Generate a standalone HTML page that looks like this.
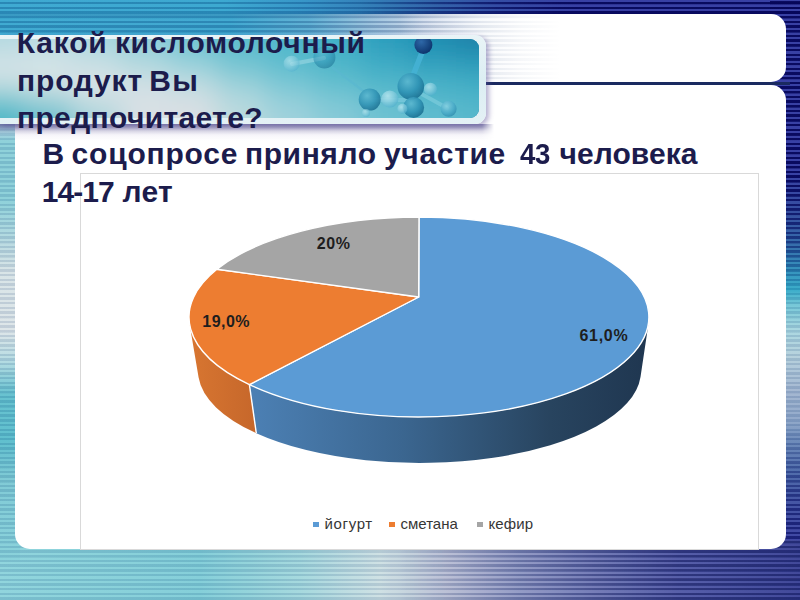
<!DOCTYPE html>
<html><head><meta charset="utf-8">
<style>
*{margin:0;padding:0;box-sizing:border-box}
html,body{width:800px;height:600px;overflow:hidden;background:#fff}
body{position:relative;font-family:"Liberation Sans",sans-serif}
.abs{position:absolute}
#bgtop{left:0;top:0;width:800px;height:14px;background:repeating-linear-gradient(180deg,rgba(0,30,90,0.13) 0px,rgba(0,30,90,0.13) 2.3px,rgba(0,30,90,0) 2.5px,rgba(0,30,90,0) 4.6875px) 0 2px,linear-gradient(90deg,#37a7d0 0%,#35a5cf 28%,#3092c6 38%,#2c78b4 47%,#2b5ca6 55%,#2c46a0 62%,#3038a0 72%,#3038a0 100%)}
#bgtop2{left:0;top:14px;width:770px;height:72px;background:repeating-linear-gradient(180deg,rgba(0,30,90,0.13) 0px,rgba(0,30,90,0.13) 2.3px,rgba(0,30,90,0) 2.5px,rgba(0,30,90,0) 4.6875px) 0 2.06px,linear-gradient(90deg,#38a8d0 0%,#3aa6cf 30%,#5aaed3 40%,#98c2de 48%,#cbd8ea 55%,#e8eef6 62%,#fff 70%)}
#bgright{left:770px;top:0;width:30px;height:600px;background:linear-gradient(180deg,#3038a0 0px,#3038a0 170px,#2e4a9c 215px,#2e68a8 245px,#2e8eba 270px,#34aac8 290px,#72c6d6 305px,#a8d6e0 330px,#b4d0dc 355px,#a2b6d0 390px,#8ea6c8 420px,#6a88b8 440px,#4c6aaa 470px,#3e50a0 500px,#3840a0 540px,#3438a0 600px)}
#bgbottom{left:0;top:540px;width:800px;height:60px;background:linear-gradient(90deg,#8cd3dc 0%,#80cdd7 25%,#a2d7dd 37.5%,#cde0e3 47.5%,#b8bdd4 56%,#9098c4 65%,#6e76b4 75%,#5058a6 85%,#3a4296 100%)}
#bgleft{left:0;top:100px;width:20px;height:460px;background:linear-gradient(180deg,#8acfd9 0px,#8acfd9 100px,#b4d9e0 140px,#d6e3e6 170px,#dde5e8 230px,#b4dbe2 260px,#62c0ce 295px,#5abccc 340px,#7cc9d4 380px,#86d0da 460px)}
#stripes{left:0;top:0;width:800px;height:600px;background:repeating-linear-gradient(180deg,rgba(0,40,100,0.12) 0px,rgba(0,40,100,0.12) 2.3px,rgba(255,255,255,0.04) 2.5px,rgba(255,255,255,0.04) 4.6875px);background-position:0 2px}
.sst{background:repeating-linear-gradient(180deg,rgba(6,6,90,0.9) 0px,rgba(6,6,90,0.9) 2.2px,rgba(6,6,90,0) 2.6px,rgba(6,6,90,0) 4.6875px)}
#sstop{left:0;top:0;width:800px;height:14px;background-position:0 2px;-webkit-mask-image:linear-gradient(90deg,transparent 45%,#000 70%);mask-image:linear-gradient(90deg,transparent 45%,#000 70%)}
#ssright{left:770px;top:0;width:30px;height:540px;background-position:0 2px;-webkit-mask-image:linear-gradient(180deg,#000 0px,#000 180px,transparent 290px,transparent 430px,rgba(0,0,0,0.55) 520px);mask-image:linear-gradient(180deg,#000 0px,#000 180px,transparent 290px,transparent 430px,rgba(0,0,0,0.55) 520px)}
#ssbottom{left:0;top:540px;width:800px;height:60px;background:repeating-linear-gradient(180deg,rgba(20,24,90,0.5) 0px,rgba(20,24,90,0.5) 2.2px,rgba(20,24,90,0) 2.6px,rgba(20,24,90,0) 4.6875px);background-position:0 1.06px;-webkit-mask-image:linear-gradient(90deg,transparent 50%,#000 85%);mask-image:linear-gradient(90deg,transparent 50%,#000 85%)}
#topbox{left:400px;top:14px;width:386px;height:68px;border-radius:0 15px 15px 0;background:linear-gradient(90deg,rgba(255,255,255,0) 0px,rgba(255,255,255,0.3) 40px,rgba(255,255,255,0.62) 80px,rgba(255,255,255,0.85) 120px,#fff 160px)}
#darkline{left:470px;top:82.4px;width:320px;height:2.4px;background:#1a2a60}
#mainbox{left:15px;top:85px;width:771px;height:463.5px;border-radius:15px;background:#fff}
#hshadow{left:0;top:124px;width:494px;height:18px;-webkit-mask-image:linear-gradient(90deg,#000 0px,#000 482px,transparent 494px);mask-image:linear-gradient(90deg,#000 0px,#000 482px,transparent 494px);background:linear-gradient(180deg,rgba(110,105,160,0.8) 0px,rgba(120,115,165,0.7) 3px,rgba(170,165,200,0.45) 7px,rgba(220,215,235,0.25) 11px,rgba(255,255,255,0) 17px)}
#hframe{left:0;top:35px;width:486px;height:89px;border-radius:0 11px 11px 0;box-shadow:3px 2px 5px rgba(90,80,150,0.45);background:linear-gradient(180deg,#e9f4f7 0%,#dceef3 50%,#e4f1f5 100%)}
#hinner{left:0;top:39px;width:479px;height:79px;border-radius:0 9px 9px 0;overflow:hidden;
 background:linear-gradient(90deg,rgba(220,232,236,1) 0%,rgba(210,230,234,1) 25%,rgba(120,200,214,1) 45%,rgba(60,176,200,1) 60%,rgba(40,160,192,1) 80%,rgba(30,130,170,1) 100%)}
.t{position:absolute;color:#1c1c4c;font-weight:bold;white-space:pre;line-height:1;font-size:30px}
#chart{left:80px;top:172.5px;width:678.5px;height:377px;border:1px solid #d9d9d9;background:#fff}
.lg{position:absolute;top:515.5px;font-size:15px;color:#363636;white-space:pre;line-height:1}
.sq{position:absolute;top:521.5px;width:6px;height:5.5px}
.dl{position:absolute;font-size:16px;font-weight:bold;color:#1e1e1e;white-space:pre;line-height:1}
</style></head><body>
<div id="bgtop" class="abs"></div>
<div id="bgtop2" class="abs"></div>
<div id="bgright" class="abs"></div>
<div id="bgbottom" class="abs"></div>
<div id="bgleft" class="abs"></div>
<div id="stripes" class="abs"></div>
<div id="sstop" class="abs sst"></div>
<div id="ssright" class="abs sst"></div>
<div id="ssbottom" class="abs sst"></div>
<div id="topbox" class="abs"></div>
<div id="darkline" class="abs"></div>
<div id="mainbox" class="abs"></div>
<div id="hshadow" class="abs"></div>
<div id="hframe" class="abs"></div>
<div id="hinner" class="abs">
<svg width="479" height="79" style="position:absolute;left:0;top:0">
<defs>
<filter id="hb" x="-20%" y="-50%" width="140%" height="200%"><feGaussianBlur stdDeviation="14"/></filter>
<radialGradient id="bd" cx="0.38" cy="0.32" r="0.75"><stop offset="0" stop-color="#5cb8d0"/><stop offset="0.55" stop-color="#2e92b4"/><stop offset="1" stop-color="#176a8c"/></radialGradient>
<radialGradient id="bl" cx="0.38" cy="0.32" r="0.75"><stop offset="0" stop-color="#c4ecf4"/><stop offset="0.5" stop-color="#8cd0e0"/><stop offset="1" stop-color="#4aaccb"/></radialGradient><radialGradient id="bm" cx="0.38" cy="0.32" r="0.75"><stop offset="0" stop-color="#8ad2e2"/><stop offset="0.6" stop-color="#4aaac8"/><stop offset="1" stop-color="#2a88aa"/></radialGradient>
<radialGradient id="bn" cx="0.38" cy="0.32" r="0.75"><stop offset="0" stop-color="#2e68a8"/><stop offset="1" stop-color="#0a3068"/></radialGradient>
</defs>
<g filter="url(#hb)">
<rect x="-84" y="-48" width="108" height="58" fill="#b0d8e0"/>
<rect x="24" y="-48" width="48" height="58" fill="#b8dbe2"/>
<rect x="72" y="-48" width="48" height="58" fill="#a8d6de"/>
<rect x="120" y="-48" width="48" height="58" fill="#90cfd9"/>
<rect x="168" y="-48" width="48" height="58" fill="#70c4d2"/>
<rect x="216" y="-48" width="48" height="58" fill="#5cbccc"/>
<rect x="264" y="-48" width="48" height="58" fill="#50b8cc"/>
<rect x="312" y="-48" width="48" height="58" fill="#40b0c8"/>
<rect x="360" y="-48" width="48" height="58" fill="#2a9cbc"/>
<rect x="408" y="-48" width="48" height="58" fill="#1e8cb0"/>
<rect x="456" y="-48" width="108" height="58" fill="#1a80a8"/>
<rect x="-84" y="10" width="108" height="18" fill="#cde2e6"/>
<rect x="24" y="10" width="48" height="18" fill="#cfe3e7"/>
<rect x="72" y="10" width="48" height="18" fill="#c0dde3"/>
<rect x="120" y="10" width="48" height="18" fill="#a8d6de"/>
<rect x="168" y="10" width="48" height="18" fill="#88ccd8"/>
<rect x="216" y="10" width="48" height="18" fill="#68c0d0"/>
<rect x="264" y="10" width="48" height="18" fill="#58bacc"/>
<rect x="312" y="10" width="48" height="18" fill="#48b4c8"/>
<rect x="360" y="10" width="48" height="18" fill="#38a8c4"/>
<rect x="408" y="10" width="48" height="18" fill="#2c9cbc"/>
<rect x="456" y="10" width="108" height="18" fill="#2894b6"/>
<rect x="-84" y="28" width="108" height="18" fill="#d9e3e6"/>
<rect x="24" y="28" width="48" height="18" fill="#dae3e6"/>
<rect x="72" y="28" width="48" height="18" fill="#d5e2e5"/>
<rect x="120" y="28" width="48" height="18" fill="#c5dde2"/>
<rect x="168" y="28" width="48" height="18" fill="#b0d8df"/>
<rect x="216" y="28" width="48" height="18" fill="#88ccd6"/>
<rect x="264" y="28" width="48" height="18" fill="#6cc2d2"/>
<rect x="312" y="28" width="48" height="18" fill="#58bacc"/>
<rect x="360" y="28" width="48" height="18" fill="#48b2c8"/>
<rect x="408" y="28" width="48" height="18" fill="#40acc4"/>
<rect x="456" y="28" width="108" height="18" fill="#3aa8c2"/>
<rect x="-84" y="46" width="108" height="18" fill="#90d0d8"/>
<rect x="24" y="46" width="48" height="18" fill="#b8dadf"/>
<rect x="72" y="46" width="48" height="18" fill="#d8e2e5"/>
<rect x="120" y="46" width="48" height="18" fill="#d8e1e5"/>
<rect x="168" y="46" width="48" height="18" fill="#cfdfe3"/>
<rect x="216" y="46" width="48" height="18" fill="#acd6de"/>
<rect x="264" y="46" width="48" height="18" fill="#88ccd8"/>
<rect x="312" y="46" width="48" height="18" fill="#70c4d2"/>
<rect x="360" y="46" width="48" height="18" fill="#5cbcce"/>
<rect x="408" y="46" width="48" height="18" fill="#50b6ca"/>
<rect x="456" y="46" width="108" height="18" fill="#48b2c8"/>
<rect x="-84" y="64" width="108" height="58" fill="#48b6c6"/>
<rect x="24" y="64" width="48" height="58" fill="#6ac0ce"/>
<rect x="72" y="64" width="48" height="58" fill="#a8d4dc"/>
<rect x="120" y="64" width="48" height="58" fill="#d8e0e4"/>
<rect x="168" y="64" width="48" height="58" fill="#dadfe3"/>
<rect x="216" y="64" width="48" height="58" fill="#bcdade"/>
<rect x="264" y="64" width="48" height="58" fill="#a0d2dc"/>
<rect x="312" y="64" width="48" height="58" fill="#88cad8"/>
<rect x="360" y="64" width="48" height="58" fill="#70c2d2"/>
<rect x="408" y="64" width="48" height="58" fill="#60bccf"/>
<rect x="456" y="64" width="108" height="58" fill="#58b8cc"/>

</g>
<g transform="translate(0,-39)">
<g stroke-linecap="round">
<line x1="423" y1="50" x2="412" y2="78" stroke="#45b2d4" stroke-width="5.5" opacity="0.9"/>
<line x1="333" y1="68" x2="366" y2="93" stroke="#5ab8d0" stroke-width="2.5" opacity="0.7"/>
<line x1="418" y1="92" x2="447" y2="108" stroke="#7cccdc" stroke-width="4" opacity="0.7"/>
<line x1="292" y1="64" x2="324" y2="58" stroke="#9cd8e4" stroke-width="4" opacity="0.6"/>
<line x1="372" y1="100" x2="408" y2="100" stroke="#80cce0" stroke-width="4" opacity="0.6"/>
</g>
<circle cx="291.6" cy="63.7" r="8" fill="url(#bl)" opacity="0.6"/>
<circle cx="324.4" cy="57.4" r="11" fill="url(#bd)" opacity="0.55"/>
<circle cx="423.4" cy="45" r="9" fill="url(#bn)"/>
<circle cx="410.8" cy="86.4" r="13.3" fill="url(#bd)" opacity="0.9"/>
<circle cx="430.4" cy="89.2" r="6.5" fill="url(#bl)" opacity="0.7"/>
<circle cx="369.7" cy="99.6" r="11" fill="url(#bd)" opacity="0.85"/>
<circle cx="389.8" cy="99" r="8.6" fill="url(#bl)" opacity="0.75"/>
<circle cx="413.6" cy="107.4" r="10.5" fill="url(#bd)" opacity="0.9"/>
<circle cx="448.6" cy="108.8" r="8" fill="url(#bm)" opacity="0.8"/>
<circle cx="402.4" cy="108.8" r="5" fill="url(#bl)" opacity="0.7"/>
<circle cx="366" cy="113" r="4" fill="url(#bl)" opacity="0.6"/>
</g>
</svg>
</div>
<div id="chart" class="abs"></div>
<svg class="abs" style="left:0;top:0" width="800" height="600">
<defs>
<linearGradient id="gbw" gradientUnits="userSpaceOnUse" x1="250" y1="0" x2="650" y2="0">
<stop offset="0" stop-color="#4c80b4"/><stop offset="0.38" stop-color="#3b6690"/><stop offset="0.75" stop-color="#28445f"/><stop offset="1" stop-color="#1f3650"/></linearGradient>
<linearGradient id="gow" gradientUnits="userSpaceOnUse" x1="189" y1="0" x2="256" y2="0">
<stop offset="0" stop-color="#d87631"/><stop offset="1" stop-color="#c6672b"/></linearGradient>
</defs>
<path d="M249.4,384.6 A230,100 0 0 0 648.5,323.5 L640.5,377.0 A221.4,91.7 0 0 1 256.3,433.2 Z" fill="url(#gbw)"/>
<path d="M189.6,324.3 A230,100 0 0 0 249.4,384.6 L256.3,433.2 A221.4,91.7 0 0 1 198.6,377.6 Z" fill="url(#gow)"/>
<g stroke="#fff" stroke-width="1.4" stroke-linejoin="round">
<path d="M418.7,297 L419,217 A230,100 0 1 1 249.4,384.6 Z" fill="#5b9bd5"/>
<path d="M418.7,297 L249.4,384.6 A230,100 0 0 1 216.9,269.3 Z" fill="#ed7d31"/>
<path d="M418.7,297 L216.9,269.3 A230,100 0 0 1 419,217 Z" fill="#a5a5a5"/>
<line x1="249.4" y1="384.6" x2="256.3" y2="433.2"/>
</g>
</svg>
<div class="dl" style="left:316.75px;top:236px;letter-spacing:0.625px">20%</div>
<div class="dl" style="left:202.3px;top:314px;letter-spacing:0.475px">19,0%</div>
<div class="dl" style="left:579.5px;top:327.5px;letter-spacing:0.7px">61,0%</div>
<div class="sq" style="left:313px;background:#5b9bd5"></div>
<div class="lg" style="left:324.5px;letter-spacing:0.66px">йогурт</div>
<div class="sq" style="left:389px;background:#ed7d31"></div>
<div class="lg" style="left:400.5px">сметана</div>
<div class="sq" style="left:477px;background:#a5a5a5"></div>
<div class="lg" style="left:488.5px;letter-spacing:0.12px">кефир</div>
<div class="t" style="left:16.7px;top:27.5px;letter-spacing:0.825px">Какой</div>
<div class="t" style="left:114.9px;top:27.5px;letter-spacing:0.675px">кисломолочный</div>
<div class="t" style="left:17.1px;top:66px;letter-spacing:0.8px">продукт</div>
<div class="t" style="left:149.25px;top:66px;letter-spacing:1.25px">Вы</div>
<div class="t" style="left:17px;top:102.7px;letter-spacing:0.338px">предпочитаете?</div>
<div class="t" style="left:42.5px;top:139px;letter-spacing:0px">В</div>
<div class="t" style="left:71.5px;top:139px;letter-spacing:0.812px">соцопросе</div>
<div class="t" style="left:245px;top:139px;letter-spacing:0.583px">приняло</div>
<div class="t" style="left:384px;top:139px;letter-spacing:0.667px">участие</div>
<div class="t" style="left:520.3px;top:139px;letter-spacing:-0.5px;transform:scaleX(0.92);transform-origin:0 0">43</div>
<div class="t" style="left:559.5px;top:139px;letter-spacing:0.071px">человека</div>
<div class="t" style="left:41.85px;top:177.2px;letter-spacing:-0.962px">14-17</div>
<div class="t" style="left:122.5px;top:177.2px;letter-spacing:0.25px">лет</div>
</body></html>
